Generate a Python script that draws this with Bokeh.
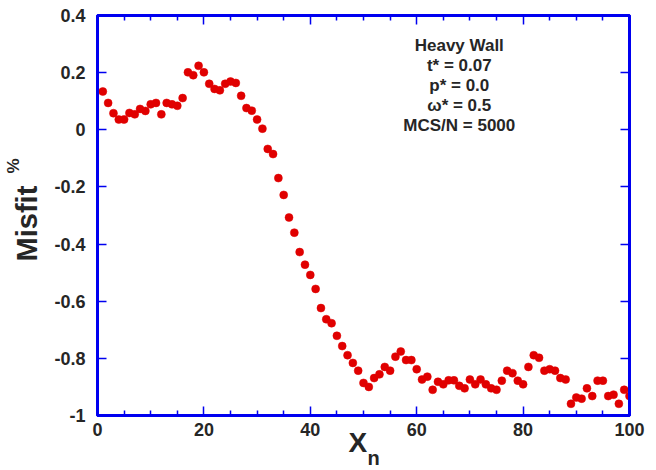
from bokeh.plotting import figure
from bokeh.models import (Range1d, FixedTicker, LinearAxis, Label, Title)
from bokeh.embed import file_html
from bokeh.resources import INLINE

# ---- data ----
x_n = list(range(1, 101))
misfit = [
    0.134, 0.094, 0.058, 0.036, 0.036, 0.059, 0.054, 0.073, 0.066, 0.089,
    0.094, 0.054, 0.094, 0.089, 0.084, 0.111, 0.201, 0.191, 0.224, 0.201,
    0.161, 0.143, 0.138, 0.161, 0.169, 0.164, 0.119, 0.076, 0.067, 0.036,
    0.004, -0.067, -0.085, -0.169, -0.228, -0.307, -0.360, -0.428, -0.472, -0.508,
    -0.557, -0.624, -0.663, -0.677, -0.721, -0.757, -0.789, -0.816, -0.843, -0.886,
    -0.900, -0.869, -0.856, -0.830, -0.843, -0.794, -0.776, -0.806, -0.806, -0.838,
    -0.874, -0.864, -0.910, -0.882, -0.891, -0.877, -0.877, -0.896, -0.905, -0.874,
    -0.891, -0.874, -0.891, -0.905, -0.910, -0.878, -0.843, -0.852, -0.878, -0.891,
    -0.830, -0.789, -0.798, -0.843, -0.838, -0.843, -0.869, -0.874, -0.959, -0.937,
    -0.941, -0.905, -0.932, -0.878, -0.878, -0.932, -0.927, -0.959, -0.910, -0.932,
]
x_ticks = [0, 20, 40, 60, 80, 100]
x_tick_labels = ["0", "20", "40", "60", "80", "100"]
y_ticks = [-1.0, -0.8, -0.6, -0.4, -0.2, 0.0, 0.2, 0.4]
y_tick_labels = ["-1", "-0.8", "-0.6", "-0.4", "-0.2", "0", "0.2", "0.4"]
annotation_lines = ["Heavy Wall", "t* = 0.07", "p* = 0.0", "\u03c9* = 0.5", "MCS/N = 5000"]

BLUE = "#0000f0"
TXT = "#262626"
FONT = "Liberation Sans"
NBSP = "\u00a0"

p = figure(width=656, height=470, output_backend="svg", toolbar_location=None,
           x_range=Range1d(0, 100), y_range=Range1d(-1, 0.4),
           min_border_left=97, min_border_right=27, min_border_top=15,
           min_border_bottom=51, x_axis_location=None, y_axis_location=None)
p.grid.visible = False
p.outline_line_color = BLUE
p.outline_line_width = 3
p.background_fill_color = "white"
p.border_fill_color = "white"

x_minor = [v for v in range(0, 101, 5) if v % 20 != 0]


def make_x_axis(show_labels):
    ax = LinearAxis(ticker=FixedTicker(ticks=x_ticks, minor_ticks=x_minor))
    ax.major_label_overrides = {t: l for t, l in zip(x_ticks, x_tick_labels)}
    ax.axis_line_color = BLUE
    ax.axis_line_width = 3
    ax.major_tick_line_color = BLUE
    ax.major_tick_line_width = 1.5
    ax.minor_tick_line_color = BLUE
    ax.minor_tick_line_width = 1.5
    ax.major_tick_in = 9
    ax.major_tick_out = 0
    ax.minor_tick_in = 5
    ax.minor_tick_out = 0
    ax.major_label_text_font = FONT
    ax.major_label_text_font_style = "bold"
    ax.major_label_text_font_size = "18px"
    ax.major_label_text_color = TXT if show_labels else None
    ax.major_label_standoff = 7
    return ax


def make_y_axis(show_labels):
    ax = LinearAxis(ticker=FixedTicker(ticks=y_ticks))
    ax.major_label_overrides = {t: l for t, l in zip(y_ticks, y_tick_labels)}
    ax.axis_line_color = BLUE
    ax.axis_line_width = 3
    ax.major_tick_line_color = BLUE
    ax.major_tick_line_width = 1.5
    ax.minor_tick_line_color = None
    ax.major_tick_in = 9
    ax.major_tick_out = 0
    ax.major_label_text_font = FONT
    ax.major_label_text_font_style = "bold"
    ax.major_label_text_font_size = "18px"
    ax.major_label_text_color = TXT if show_labels else None
    ax.major_label_standoff = 12
    return ax


p.add_layout(make_x_axis(True), "below")
p.add_layout(make_x_axis(False), "above")

yax = make_y_axis(True)
yax.axis_label = "Misfit" + NBSP * 2
yax.axis_label_text_font = FONT
yax.axis_label_text_font_style = "bold"
yax.axis_label_text_font_size = "29px"
yax.axis_label_text_color = TXT
yax.axis_label_standoff = 8
p.add_layout(yax, "left")

# the small "%" of the y title, on a bare outer axis
pax = LinearAxis(ticker=FixedTicker(ticks=[]))
pax.axis_line_color = None
pax.major_tick_line_color = None
pax.minor_tick_line_color = None
pax.major_label_standoff = 0
pax.major_tick_out = 0
pax.major_tick_in = 0
pax.axis_label = NBSP * 21 + "%"
pax.axis_label_text_font = FONT
pax.axis_label_text_font_style = "bold"
pax.axis_label_text_font_size = "17px"
pax.axis_label_text_color = TXT
pax.axis_label_standoff = -14
p.add_layout(pax, "left")

p.add_layout(make_y_axis(False), "right")

p.scatter(x_n, misfit, size=8, marker="circle", fill_color="#e00000",
          line_color="#e00000", line_width=0.5)

# annotation block
ann_x = 68.0
ann_top = 0.296
ann_step = 0.0705
for i, line in enumerate(annotation_lines):
    p.add_layout(Label(x=ann_x, y=ann_top - i * ann_step, text=line,
                       text_align="center", text_baseline="alphabetic",
                       text_font=FONT, text_font_style="bold",
                       text_font_size="17px", text_color=TXT))

# x title with subscript (side-panel titles)
tkw = dict(text_font=FONT, text_font_style="bold", text_color=TXT, align="left",
           vertical_align="top")
p.add_layout(Title(text="X", text_font_size="28px", offset=251,
                   standoff=-24, **tkw), "below")
p.add_layout(Title(text="n", text_font_size="20px", offset=270,
                   standoff=-1, **tkw), "below")

open("out.html", "w").write(file_html(p, INLINE))
